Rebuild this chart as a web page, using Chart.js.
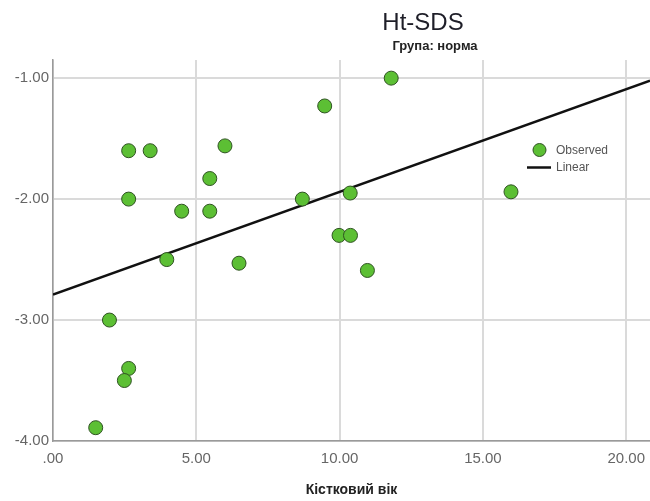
<!DOCTYPE html>
<html>
<head>
<meta charset="utf-8">
<script src="https://cdn.jsdelivr.net/npm/chart.js@4.4.0/dist/chart.umd.min.js"></script>
<style>
  html, body { margin: 0; padding: 0; background: #ffffff; }
  #wrap { width: 650px; height: 501px; position: relative; }
</style>
</head>
<body>
<div id="wrap"><canvas id="c" width="650" height="501"></canvas></div>
<script>
// ---- Data ----
const chartTitle = "Ht-SDS";
const chartSubtitle = "Група: норма";
const xAxisTitle = "Кістковий вік";
const observedLabel = "Observed";
const linearLabel = "Linear";

// Observed points: bone age (x) vs Ht-SDS (y)
const boneAge = [11.80, 9.48, 2.64, 3.39, 6.00, 5.47, 2.64, 4.49, 5.47, 8.70,
                 10.37, 9.98, 10.38, 10.97, 3.97, 6.49, 1.97, 2.64, 2.49, 1.49, 15.98];
const htSDS   = [-1.00, -1.23, -1.60, -1.60, -1.56, -1.83, -2.00, -2.10, -2.10, -2.00,
                 -1.95, -2.30, -2.30, -2.59, -2.50, -2.53, -3.00, -3.40, -3.50, -3.89, -1.94];

// Linear fit line end points
const fitX = [0, 20.83];
const fitY = [-2.79, -1.02];

// Tick values
const xTicks = [0, 5, 10, 15, 20];
const yTicks = [-4, -3, -2, -1];
const xRange = [0, 20.83];
const yRange = [-4, -0.85];

// ---- Styles ----
const pointFill = "#5cbf34";
const pointBorder = "#2f5222";
const lineColor = "#111111";
const gridColor = "#dadada";
const axisColor = "#9a9a9a";
const tickColor = "#666666";

const observedPts = boneAge.map((x, i) => ({ x: x, y: htSDS[i] }));
const fitPts = fitX.map((x, i) => ({ x: x, y: fitY[i] }));

function fmt(v) {
  if (v === 0) return ".00";
  return v.toFixed(2);
}

const overlayPlugin = {
  id: "overlay",
  afterDraw(chart) {
    const ctx = chart.ctx;
    ctx.save();
    // Title
    ctx.fillStyle = "#1e1e28";
    ctx.textAlign = "center";
    ctx.textBaseline = "alphabetic";
    ctx.font = "24px 'Liberation Sans', Arial, sans-serif";
    ctx.fillText(chartTitle, 423, 30);
    ctx.font = "bold 13px 'Liberation Sans', Arial, sans-serif";
    ctx.fillStyle = "#222222";
    ctx.textBaseline = "middle";
    ctx.fillText(chartSubtitle, 435, 46);

    // Legend
    const ds0 = chart.data.datasets[0];
    const ds1 = chart.data.datasets[1];
    ctx.beginPath();
    ctx.arc(539.5, 150, 6.5, 0, Math.PI * 2);
    ctx.fillStyle = ds0.backgroundColor;
    ctx.fill();
    ctx.lineWidth = 1;
    ctx.strokeStyle = ds0.borderColor;
    ctx.stroke();
    ctx.beginPath();
    ctx.moveTo(527, 167.5);
    ctx.lineTo(551, 167.5);
    ctx.lineWidth = 2.5;
    ctx.strokeStyle = ds1.borderColor;
    ctx.stroke();
    ctx.fillStyle = "#555555";
    ctx.textAlign = "left";
    ctx.textBaseline = "middle";
    ctx.font = "12px 'Liberation Sans', Arial, sans-serif";
    ctx.fillText(ds0.label, 556, 151);
    ctx.fillText(ds1.label, 556, 168);
    ctx.restore();
  }
};

new Chart(document.getElementById("c"), {
  data: {
    datasets: [
      {
        type: "scatter",
        label: observedLabel,
        data: observedPts,
        backgroundColor: pointFill,
        borderColor: pointBorder,
        borderWidth: 1,
        pointRadius: 7,
        order: 1
      },
      {
        type: "line",
        label: linearLabel,
        data: fitPts,
        borderColor: lineColor,
        backgroundColor: lineColor,
        borderWidth: 2.5,
        pointRadius: 0,
        fill: false,
        order: 2
      }
    ]
  },
  options: {
    responsive: false,
    animation: false,
    devicePixelRatio: 1,
    layout: { autoPadding: false, padding: { top: 60, left: 0, right: 0, bottom: 0 } },
    plugins: {
      legend: { display: false },
      tooltip: { enabled: false },
      title: { display: false }
    },
    scales: {
      x: {
        type: "linear",
        min: xRange[0],
        max: xRange[1],
        afterFit(scale) { scale.height = 60; scale.paddingRight = 0; scale.paddingLeft = 0; },
        afterBuildTicks(scale) { scale.ticks = xTicks.map(v => ({ value: v })); },
        grid: { color: gridColor, lineWidth: 2, drawTicks: false },
        border: { display: true, color: axisColor, width: 1.5 },
        ticks: {
          color: tickColor,
          padding: 9,
          maxRotation: 0,
          font: { family: "'Liberation Sans Narrow', 'Liberation Sans', Arial, sans-serif", size: 15 },
          callback: (v) => fmt(v)
        },
        title: {
          display: true,
          text: xAxisTitle,
          color: "#222222",
          font: { family: "'Liberation Sans', Arial, sans-serif", size: 14, weight: "bold" },
          padding: { top: 0, bottom: 2 }
        }
      },
      y: {
        type: "linear",
        min: yRange[0],
        max: yRange[1],
        afterFit(scale) { scale.width = 53; scale.paddingTop = 0; scale.paddingBottom = 0; },
        afterBuildTicks(scale) { scale.ticks = yTicks.map(v => ({ value: v })); },
        grid: { color: gridColor, lineWidth: 2, drawTicks: false },
        border: { display: true, color: axisColor, width: 1.5 },
        ticks: {
          color: tickColor,
          padding: 4,
          font: { family: "'Liberation Sans Narrow', 'Liberation Sans', Arial, sans-serif", size: 15 },
          callback: (v) => v.toFixed(2)
        }
      }
    }
  },
  plugins: [overlayPlugin]
});
</script>
</body>
</html>
